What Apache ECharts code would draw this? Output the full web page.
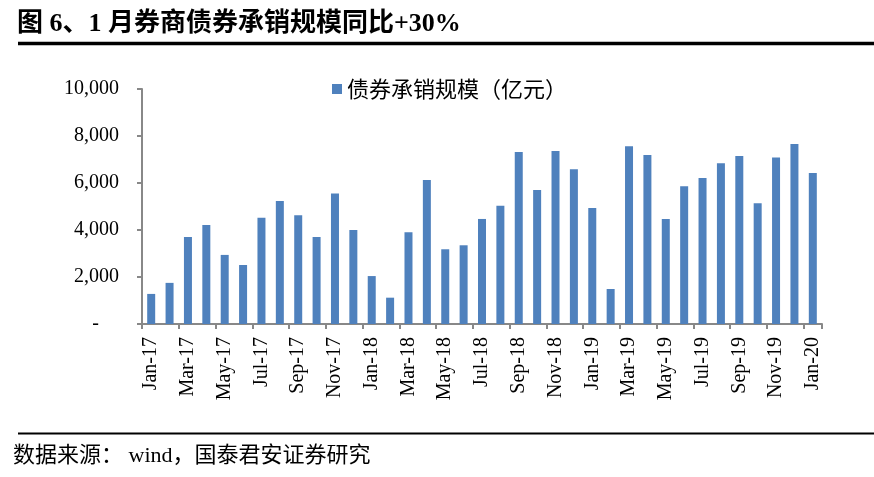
<!DOCTYPE html>
<html>
<head>
<meta charset="utf-8">
<script src="https://cdn.jsdelivr.net/npm/echarts@6/dist/echarts.min.js"></script>
<style>
  html, body { margin: 0; padding: 0; background: #fff; }
  #chart { width: 874px; height: 477px; }
</style>
</head>
<body>
<div id="chart"></div>
<script>
var months = [
  'Jan-17', 'Feb-17', 'Mar-17', 'Apr-17', 'May-17', 'Jun-17', 'Jul-17', 'Aug-17', 'Sep-17', 'Oct-17', 'Nov-17', 'Dec-17',
  'Jan-18', 'Feb-18', 'Mar-18', 'Apr-18', 'May-18', 'Jun-18', 'Jul-18', 'Aug-18', 'Sep-18', 'Oct-18', 'Nov-18', 'Dec-18',
  'Jan-19', 'Feb-19', 'Mar-19', 'Apr-19', 'May-19', 'Jun-19', 'Jul-19', 'Aug-19', 'Sep-19', 'Oct-19', 'Nov-19', 'Dec-19',
  'Jan-20'
]
// 债券承销规模（亿元）
var underwriting = [
  1280, 1750, 3700, 4210, 2940, 2510, 4520, 5230, 4630, 3700, 5550, 4000,
  2040, 1120, 3900, 6130, 3180, 3350, 4470, 5030, 7320, 5700, 7360, 6580,
  4940, 1490, 7560, 7190, 4470, 5860, 6210, 6840, 7150, 5140, 7090, 7660,
  6430
]
var yTicks = [0, 2000, 4000, 6000, 8000, 10000]

var serif = "'Liberation Serif', 'Times New Roman', 'Noto Sans CJK SC'"
var cjk = "'Noto Sans CJK SC', sans-serif"

var chart = echarts.init(document.getElementById('chart'))
var option = {
  animation: false,
  title: [
    {
      text: '图 6、1 月券商债券承销规模同比+30%',
      left: 12,
      top: 6,
      textStyle: { fontFamily: serif, fontSize: 26, fontWeight: 'bold', color: '#000' }
    },
    {
      text: '数据来源： wind，国泰君安证券研究',
      left: 8,
      top: 440,
      textStyle: { fontFamily: serif, fontSize: 22, fontWeight: 'normal', color: '#000' }
    }
  ],
  graphic: [
    { type: 'line', shape: { x1: 18, y1: 43.5, x2: 874, y2: 43.5 }, style: { stroke: '#000', lineWidth: 3.5 } },
    { type: 'line', shape: { x1: 18, y1: 433.5, x2: 874, y2: 433.5 }, style: { stroke: '#000', lineWidth: 2 } }
  ],
  legend: {
    data: ['债券承销规模（亿元）'],
    left: 327,
    top: 73,
    itemWidth: 10,
    itemHeight: 10,
    icon: 'rect',
    textStyle: { fontFamily: cjk, fontSize: 22, color: '#000' }
  },
  grid: { left: 142, right: 52, top: 89, bottom: 153 },
  xAxis: {
    type: 'category',
    data: months,
    boundaryGap: true,
    axisLine: { lineStyle: { color: '#888', width: 2 } },
    axisTick: { show: true, interval: 1, length: 5, lineStyle: { color: '#888', width: 2 } },
    axisLabel: {
      interval: 1,
      rotate: 90,
      margin: 13,
      fontFamily: serif,
      fontSize: 20,
      color: '#000'
    }
  },
  yAxis: {
    type: 'value',
    min: yTicks[0],
    max: yTicks[yTicks.length - 1],
    interval: 2000,
    splitLine: { show: false },
    axisLine: { show: true, lineStyle: { color: '#888', width: 2 } },
    axisTick: { show: true, length: 5, lineStyle: { color: '#888', width: 2 } },
    axisLabel: {
      margin: 23,
      fontFamily: serif,
      fontSize: 20,
      color: '#000',
      formatter: function(v) {
        return v === 0 ? '-    ' : v.toLocaleString('en-US')
      }
    }
  },
  series: [
    {
      name: '债券承销规模（亿元）',
      type: 'bar',
      data: underwriting,
      barWidth: 8,
      itemStyle: { color: '#4F81BD' }
    }
  ]
}
chart.setOption(option)
</script>
</body>
</html>
